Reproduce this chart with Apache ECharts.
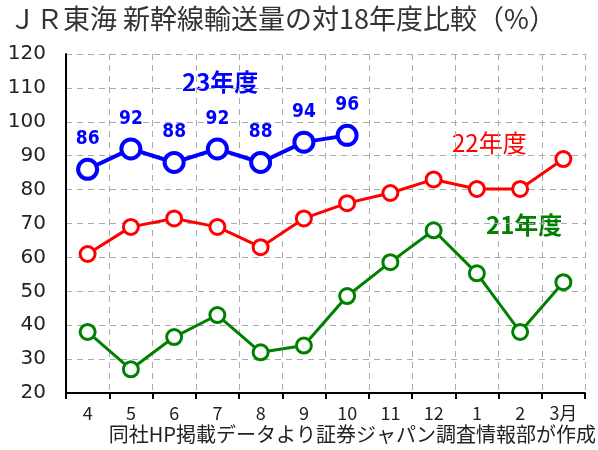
<!DOCTYPE html>
<html>
<head>
    <meta charset="utf-8">
    <title>JR東海 新幹線輸送量</title>
    <script src="https://cdn.jsdelivr.net/npm/echarts@6/dist/echarts.min.js"></script>
    <style>
        html, body { margin: 0; padding: 0; background: #fff; }
        #chart { width: 598px; height: 450px; }
    </style>
</head>
<body>
<div id="chart"></div>
<script>
    // 月（年度ベース）
    const months = ['4', '5', '6', '7', '8', '9', '10', '11', '12', '1', '2', '3月'];
    // 対18年度比（%）
    const fy23 = [86, 92, 88, 92, 88, 94, 96];
    const fy22 = [61, 69, 71.5, 69, 63, 71.5, 76, 79, 83, 80.2, 80.2, 89];
    const fy21 = [38, 27, 36.5, 43, 32, 34, 48.6, 58.6, 68, 55.3, 38, 52.7];
    const yTicks = [20, 120, 10];

    const jp = '"Noto Sans CJK JP", sans-serif';
    const chart = echarts.init(document.getElementById('chart'), null, {renderer: 'canvas'});

    function lineSeries(name, data, color, width, size) {
        return {
            name: name,
            type: 'line',
            data: data,
            symbol: 'circle',
            symbolSize: size,
            lineStyle: {color: color, width: width},
            itemStyle: {color: '#fff', borderColor: color, borderWidth: width},
            z: 3
        };
    }

    const blue = lineSeries('23年度', fy23, '#0000ff', 4, 19);
    blue.label = {
        show: true, position: 'top', distance: 9,
        color: '#0000ff', fontSize: 19, fontWeight: 'bold',
        fontFamily: '"Liberation Sans Narrow", "DejaVu Sans Condensed", sans-serif'
    };
    blue.z = 5;

    chart.setOption({
        animation: false,
        title: {
            text: 'ＪＲ東海 新幹線輸送量の対18年度比較（%）',
            left: 4, top: 0,
            textStyle: {color: '#333', fontSize: 27, fontWeight: 'normal', fontFamily: jp}
        },
        grid: {left: 66, right: 13, top: 54, bottom: 57},
        xAxis: {
            type: 'category',
            data: months,
            boundaryGap: true,
            axisLine: {lineStyle: {color: '#000', width: 2}},
            axisTick: {show: true, length: 6, lineStyle: {color: '#000', width: 2}},
            axisLabel: {color: '#222', fontSize: 18, margin: 11, fontFamily: jp},
            splitLine: {show: true, lineStyle: {color: '#aaa', type: [6, 5], width: 1}}
        },
        yAxis: {
            type: 'value',
            min: yTicks[0], max: yTicks[1], interval: yTicks[2],
            axisLine: {show: true, lineStyle: {color: '#000', width: 2}},
            axisTick: {show: false},
            axisLabel: {color: '#222', fontSize: 20, margin: 20, fontFamily: '"DejaVu Sans", sans-serif'},
            splitLine: {show: true, lineStyle: {color: '#aaa', type: [6, 5], width: 1}}
        },
        series: [
            lineSeries('21年度', fy21, '#008000', 3, 15),
            lineSeries('22年度', fy22, '#ff0000', 3, 15),
            blue
        ],
        graphic: [
            {type: 'text', left: 182, top: 70, style: {text: '23年度', fill: '#0000ff', font: 'bold 24px ' + jp}},
            {type: 'text', left: 452, top: 131, style: {text: '22年度', fill: '#ff0000', font: '24px ' + jp}},
            {type: 'text', left: 486, top: 213, style: {text: '21年度', fill: '#008000', font: 'bold 24px ' + jp}},
            {type: 'text', right: 2, top: 424, style: {text: '同社HP掲載データより証券ジャパン調査情報部が作成', fill: '#222', font: '20px ' + jp}}
        ]
    });
</script>
</body>
</html>
